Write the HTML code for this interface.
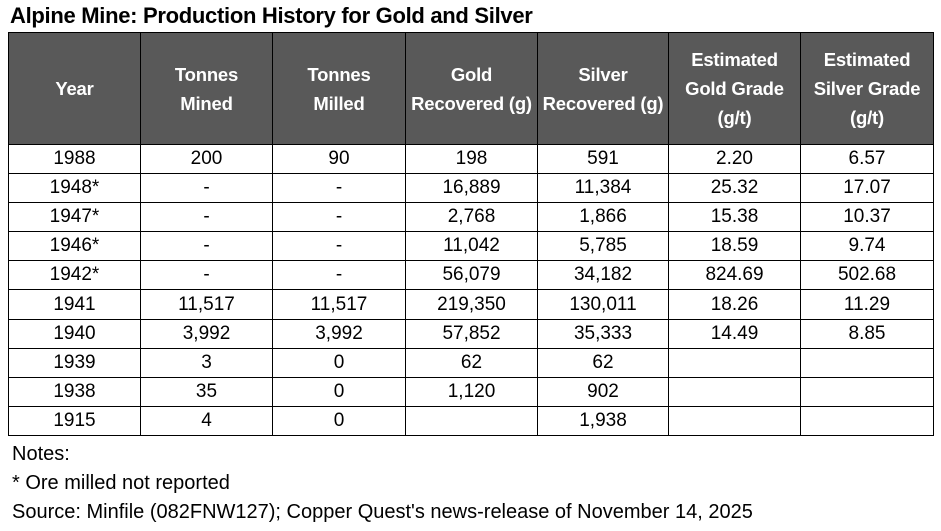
<!DOCTYPE html>
<html><head><style>
body{margin:0;width:941px;height:531px;background:#fff;font-family:"Liberation Sans",sans-serif;color:#000;position:relative;overflow:hidden}
.t{position:absolute;left:10px;top:3px;font-size:22px;font-weight:bold;letter-spacing:-0.3px}
table{position:absolute;left:8px;top:32px;border-collapse:collapse;table-layout:fixed}
td,th{border:1.3px solid #000;text-align:center;padding:0;font-size:19px}
th{background:#595959;color:#fff;height:111px;font-weight:bold;line-height:29px;font-size:18.5px;letter-spacing:-0.2px}
td{height:28.1px;line-height:20px}
.n{position:absolute;left:12px;font-size:20px}
</style></head><body>
<div class="t">Alpine Mine: Production History for Gold and Silver</div>
<table>
<colgroup><col style="width:132px"><col style="width:132px"><col style="width:133px"><col style="width:132px"><col style="width:131px"><col style="width:132px"><col style="width:133px"></colgroup>
<tr><th>Year</th><th>Tonnes<br>Mined</th><th>Tonnes<br>Milled</th><th>Gold<br>Recovered (g)</th><th>Silver<br>Recovered (g)</th><th>Estimated<br>Gold Grade<br>(g/t)</th><th>Estimated<br>Silver Grade<br>(g/t)</th></tr>
<tr><td>1988</td><td>200</td><td>90</td><td>198</td><td>591</td><td>2.20</td><td>6.57</td></tr>
<tr><td>1948*</td><td>-</td><td>-</td><td>16,889</td><td>11,384</td><td>25.32</td><td>17.07</td></tr>
<tr><td>1947*</td><td>-</td><td>-</td><td>2,768</td><td>1,866</td><td>15.38</td><td>10.37</td></tr>
<tr><td>1946*</td><td>-</td><td>-</td><td>11,042</td><td>5,785</td><td>18.59</td><td>9.74</td></tr>
<tr><td>1942*</td><td>-</td><td>-</td><td>56,079</td><td>34,182</td><td>824.69</td><td>502.68</td></tr>
<tr><td>1941</td><td>11,517</td><td>11,517</td><td>219,350</td><td>130,011</td><td>18.26</td><td>11.29</td></tr>
<tr><td>1940</td><td>3,992</td><td>3,992</td><td>57,852</td><td>35,333</td><td>14.49</td><td>8.85</td></tr>
<tr><td>1939</td><td>3</td><td>0</td><td>62</td><td>62</td><td></td><td></td></tr>
<tr><td>1938</td><td>35</td><td>0</td><td>1,120</td><td>902</td><td></td><td></td></tr>
<tr><td>1915</td><td>4</td><td>0</td><td></td><td>1,938</td><td></td><td></td></tr>
</table>
<div class="n" style="top:443px">Notes:</div>
<div class="n" style="top:472px">* Ore milled not reported</div>
<div class="n" style="top:501px">Source: Minfile (082FNW127); Copper Quest's news-release of November 14, 2025</div>
</body></html>
